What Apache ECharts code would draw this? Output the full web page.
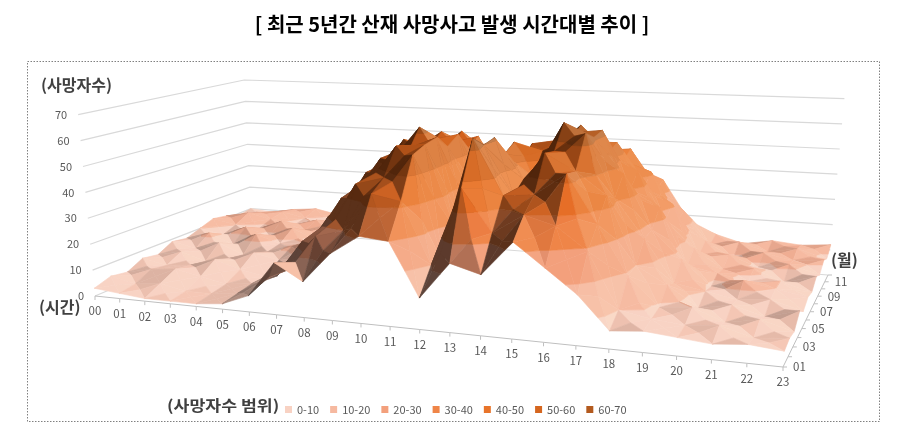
<!DOCTYPE html>
<html>
<head>
<meta charset="utf-8">
<title>최근 5년간 산재 사망사고 발생 시간대별 추이</title>
<script src="https://cdn.jsdelivr.net/npm/echarts@6/dist/echarts.min.js"></script>
<style>
  html, body { margin: 0; padding: 0; background: #fff; }
  #main { width: 904px; height: 443px; }
</style>
</head>
<body>
<div id="main"></div>
<script>
// ---- data ----
var hours = ['00','01','02','03','04','05','06','07','08','09','10','11',
             '12','13','14','15','16','17','18','19','20','21','22','23'];
var months = ['01','02','03','04','05','06','07','08','09','10','11','12'];
var valueTicks = [0, 10, 20, 30, 40, 50, 60, 70];
var bandNames = ['0-10', '10-20', '20-30', '30-40', '40-50', '50-60', '60-70'];
var bandColors = ['#F8D2C3', '#F6B9A0', '#F3A07C', '#EF8548', '#E8742A', '#D5661F', '#B35A1E'];

// deaths per hour, one array per month
var m01 = [3,2,1,1,1,2,6,19,13,24,31,30,11,24,21,33,25,17,6,7,6,5,6,5];
var m02 = [5,3,4,2,2,3,9,14,27,30,44,42,20,48,33,40,37,29,10,8,7,8,5,6];
var m03 = [4,6,7,5,3,4,8,22,28,45,48,57,18,64,44,45,53,36,19,9,10,6,8,5];
var m04 = [7,5,6,9,6,4,12,20,37,43,58,59,29,60,42,58,52,44,20,14,7,9,6,9];
var m05 = [6,8,5,7,10,8,10,27,35,51,54,60,24,61,46,57,64,41,27,12,10,8,9,6];
var m06 = [9,7,10,6,8,11,15,23,43,47,62,55,33,53,45,66,61,48,28,18,9,12,10,8];
var m07 = [8,11,7,12,9,10,13,28,39,55,53,58,27,56,53,59,62,40,34,13,11,9,10,7];
var m08 = [10,8,12,9,13,9,16,22,44,45,57,51,34,48,49,62,52,45,27,17,10,11,7,10];
var m09 = [12,10,9,13,10,12,14,26,35,50,49,54,25,52,54,51,54,37,31,12,13,9,11,8];
var m10 = [11,13,11,9,12,10,16,21,39,41,54,46,30,43,45,55,45,41,22,15,9,12,10,11];
var m11 = [9,11,12,10,9,13,15,24,31,45,43,48,22,45,48,45,48,32,24,11,13,10,12,9];
var m12 = [10,9,11,12,10,11,14,18,33,36,45,38,25,36,38,47,37,34,18,13,10,12,11,12];
var deaths = [m01, m02, m03, m04, m05, m06, m07, m08, m09, m10, m11, m12];

// ---- 3d view: floor corners on the page, perspective from the front right ----
var FL = [95, 296], FR = [783, 367], BR = [828, 275], BL = [252, 230];
var UNIT_PX = 2.59;          // px per death at the front-left corner
var VANISH = [460, 4230];    // vertical edges converge far below the chart
var FONT = "'Noto Sans CJK KR', 'Noto Sans', sans-serif";

// square -> quad homography
var dx1 = FR[0] - BR[0], dx2 = BL[0] - BR[0], dx3 = FL[0] - FR[0] + BR[0] - BL[0];
var dy1 = FR[1] - BR[1], dy2 = BL[1] - BR[1], dy3 = FL[1] - FR[1] + BR[1] - BL[1];
var den = dx1 * dy2 - dx2 * dy1;
var hg = (dx3 * dy2 - dx2 * dy3) / den;
var hh = (dx1 * dy3 - dx3 * dy1) / den;
var ha = FR[0] - FL[0] + hg * FR[0], hb = BL[0] - FL[0] + hh * BL[0], hc = FL[0];
var hd = FR[1] - FL[1] + hg * FR[1], he = BL[1] - FL[1] + hh * BL[1], hf = FL[1];

function project(h, m, v) {
  var u = h / (hours.length - 1), w = m / (months.length - 1);
  var d = 1 + hg * u + hh * w;
  var x = (ha * u + hb * w + hc) / d;
  var y = (hd * u + he * w + hf) / d;
  var dy = -UNIT_PX / d * v;
  var dx = dy * (x - VANISH[0]) / (y - VANISH[1]);
  return [x + dx, y + dy];
}

// ---- surface helpers ----
var VSCALE = 0.093, DEPTH = 1.0;
var LIGHT = (function () {
  var l = [0.7, 0.6, 0.1], n = Math.sqrt(l[0]*l[0] + l[1]*l[1] + l[2]*l[2]);
  return [l[0]/n, l[1]/n, l[2]/n];
})();

function shadeOf(a, b, c) {
  var e1 = [b[0]-a[0], (b[2]-a[2])*VSCALE, (b[1]-a[1])*DEPTH];
  var e2 = [c[0]-a[0], (c[2]-a[2])*VSCALE, (c[1]-a[1])*DEPTH];
  var n = [e1[1]*e2[2]-e1[2]*e2[1], e1[2]*e2[0]-e1[0]*e2[2], e1[0]*e2[1]-e1[1]*e2[0]];
  if (n[1] < 0) n = [-n[0], -n[1], -n[2]];
  var len = Math.sqrt(n[0]*n[0] + n[1]*n[1] + n[2]*n[2]) || 1;
  var k = (n[0]*LIGHT[0] + n[1]*LIGHT[1] + n[2]*LIGHT[2]) / len;
  return k - LIGHT[1];
}

function tint(hex, s) {
  var r = parseInt(hex.substr(1, 2), 16), g = parseInt(hex.substr(3, 2), 16), b = parseInt(hex.substr(5, 2), 16);
  if (s < 0) {
    var f = Math.max(0.38, 1 + 0.9 * s);
    r *= f; g *= f * 0.96; b *= f * 0.94;
  } else {
    var t = Math.min(0.45, s * 0.75);
    r += (255 - r) * t; g += (240 - g) * t; b += (215 - b) * t;
  }
  return 'rgb(' + Math.round(r) + ',' + Math.round(g) + ',' + Math.round(b) + ')';
}

function clip(poly, level, keepAbove) {
  var out = [];
  for (var i = 0; i < poly.length; i++) {
    var a = poly[i], b = poly[(i + 1) % poly.length];
    var ina = keepAbove ? a[2] >= level : a[2] <= level;
    var inb = keepAbove ? b[2] >= level : b[2] <= level;
    if (ina) out.push(a);
    if (ina !== inb) {
      var t = (level - a[2]) / (b[2] - a[2]);
      out.push([a[0] + t*(b[0]-a[0]), a[1] + t*(b[1]-a[1]), level]);
    }
  }
  return out;
}

// cells drawn back to front, left to right
var cells = [];
for (var mi = months.length - 2; mi >= 0; mi--) {
  for (var hi = 0; hi < hours.length - 1; hi++) cells.push([hi, mi]);
}

function renderCell(params, api) {
  var h = api.value(0), m = api.value(1);
  var p00 = [h, m, deaths[m][h]], p10 = [h+1, m, deaths[m][h+1]];
  var p11 = [h+1, m+1, deaths[m+1][h+1]], p01 = [h, m+1, deaths[m+1][h]];
  var c = [h + 0.5, m + 0.5, (p00[2] + p10[2] + p11[2] + p01[2]) / 4];
  var tris = [[p01, p11, c], [p00, p01, c], [p10, p11, c], [p00, p10, c]];
  var children = [];
  tris.forEach(function (tri) {
    var s = shadeOf(tri[0], tri[1], tri[2]);
    for (var k = 0; k < bandColors.length; k++) {
      var part = clip(clip(tri, k * 10, true), (k + 1) * 10, false);
      if (part.length < 3) continue;
      var col = tint(bandColors[k], s);
      children.push({
        type: 'polygon',
        shape: { points: part.map(function (p) { return api.coord(project(p[0], p[1], p[2])); }) },
        style: { fill: col, stroke: col, lineWidth: 0.6 }
      });
    }
  });
  return { type: 'group', children: children };
}

function renderWall(params, api) {
  var v = api.value(0);
  var a = api.coord(project(0, 0, v));
  var b = api.coord(project(0, months.length - 1, v));
  var c = api.coord(project(hours.length - 1, months.length - 1, v));
  return {
    type: 'group',
    children: [
      { type: 'polyline', shape: { points: [a, b, c] }, style: { stroke: '#D9D9D9', lineWidth: 1.2, fill: null } },
      { type: 'text', style: { text: String(v), x: a[0] - 11, y: a[1], align: 'right', verticalAlign: 'middle',
        fill: '#595959', fontSize: 11, fontFamily: FONT } }
    ]
  };
}

function renderHour(params, api) {
  var i = api.value(0);
  var p = api.coord(project(i, 0, 0));
  var children = [
    { type: 'line', shape: { x1: p[0], y1: p[1], x2: p[0], y2: p[1] + 4 }, style: { stroke: '#BFBFBF', lineWidth: 1 } },
    { type: 'text', style: { text: hours[i], x: p[0], y: p[1] + 15, align: 'center', verticalAlign: 'middle',
      fill: '#595959', fontSize: 11.5, fontFamily: FONT } }
  ];
  if (i < hours.length - 1) {
    var q = api.coord(project(i + 1, 0, 0));
    children.unshift({ type: 'line', shape: { x1: p[0], y1: p[1], x2: q[0], y2: q[1] }, style: { stroke: '#BFBFBF', lineWidth: 1 } });
  }
  return { type: 'group', children: children };
}

function renderMonth(params, api) {
  var i = api.value(0);
  var last = hours.length - 1;
  var p = api.coord(project(last, i, 0));
  var children = [
    { type: 'line', shape: { x1: p[0], y1: p[1], x2: p[0] + 4, y2: p[1] }, style: { stroke: '#BFBFBF', lineWidth: 1 } }
  ];
  if (i % 2 === 0) {
    children.push({ type: 'text', style: { text: months[i], x: p[0] + 10, y: p[1], align: 'left', verticalAlign: 'middle',
      fill: '#595959', fontSize: 11.5, fontFamily: FONT } });
  }
  if (i < months.length - 1) {
    var q = api.coord(project(last, i + 1, 0));
    children.unshift({ type: 'line', shape: { x1: p[0], y1: p[1], x2: q[0], y2: q[1] }, style: { stroke: '#BFBFBF', lineWidth: 1 } });
  }
  return { type: 'group', children: children };
}

var chart = echarts.init(document.getElementById('main'));

var series = [
  { type: 'custom', renderItem: renderWall, data: valueTicks.map(function (v) { return [v, 0]; }), silent: true, clip: false, z: 1 },
  { type: 'custom', renderItem: renderHour, data: hours.map(function (t, i) { return [i, 0]; }), silent: true, clip: false, z: 2 },
  { type: 'custom', renderItem: renderMonth, data: months.map(function (t, i) { return [i, 0]; }), silent: true, clip: false, z: 2 },
  { type: 'custom', renderItem: renderCell, data: cells, silent: true, clip: false, z: 3 }
];
bandNames.forEach(function (name, k) {
  series.push({ type: 'custom', name: name, data: [], renderItem: function () { return null; },
    itemStyle: { color: bandColors[k] } });
});

var option = {
  animation: false,
  grid: { left: 0, right: 0, top: 0, bottom: 0 },
  xAxis: { type: 'value', min: 0, max: 904, show: false },
  yAxis: { type: 'value', min: 0, max: 443, inverse: true, show: false },
  legend: {
    data: bandNames,
    left: 280, top: 399,
    icon: 'rect', itemWidth: 7, itemHeight: 7, itemGap: 11,
    textStyle: { fontSize: 11, color: '#595959', fontFamily: FONT },
    selectedMode: false
  },
  graphic: [
    { type: 'rect', shape: { x: 27.5, y: 61.5, width: 852, height: 360 },
      style: { fill: 'none', stroke: '#808080', lineWidth: 1, lineDash: [1.5, 1.5] } },
    { type: 'text', left: 'center', top: 14,
      style: { text: '[ 최근 5년간 산재 사망사고 발생 시간대별 추이 ]', fill: '#000', fontSize: 20, fontWeight: 'bold', fontFamily: FONT } },
    { type: 'text', left: 41, top: 77,
      style: { text: '(사망자수)', fill: '#404040', fontSize: 16, fontWeight: 'bold', fontFamily: FONT } },
    { type: 'text', left: 39, top: 299,
      style: { text: '(시간)', fill: '#404040', fontSize: 16, fontWeight: 'bold', fontFamily: FONT } },
    { type: 'text', left: 831, top: 252,
      style: { text: '(월)', fill: '#404040', fontSize: 16, fontWeight: 'bold', fontFamily: FONT } },
    { type: 'text', left: 167, top: 398, scaleX: 1.15,
      style: { text: '(사망자수 범위)', fill: '#404040', fontSize: 15, fontWeight: 'bold', fontFamily: FONT } }
  ],
  series: series
};

chart.setOption(option);
</script>
</body>
</html>
